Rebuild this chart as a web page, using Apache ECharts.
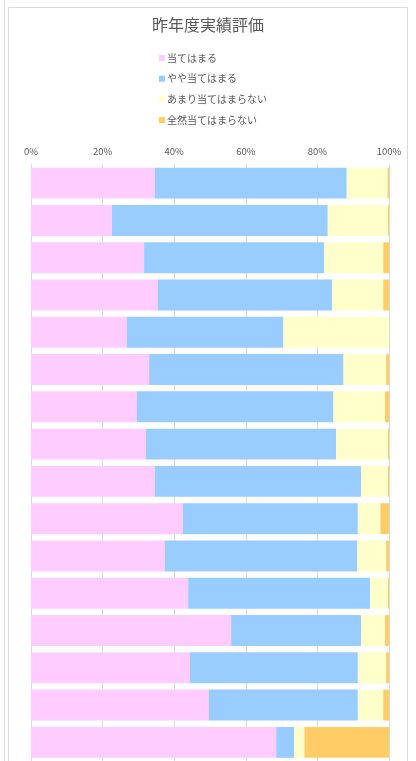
<!DOCTYPE html>
<html><head><meta charset="utf-8">
<script src="https://cdn.jsdelivr.net/npm/echarts@6/dist/echarts.min.js"></script>
<style>html,body{margin:0;padding:0;background:#fff;}#c{width:416px;height:761px;}</style>
</head><body><div id="c"></div>
<script>
const categories = ['項目1','項目2','項目3','項目4','項目5','項目6','項目7','項目8','項目9','項目10','項目11','項目12','項目13','項目14','項目15','項目16'];
const seriesNames = ['当てはまる','やや当てはまる','あまり当てはまらない','全然当てはまらない'];
const atehamaru = [34.6,22.6,31.6,35.4,26.8,33.0,29.6,32.1,34.6,42.4,37.4,43.9,55.9,44.4,49.7,68.5];
const yaya = [53.6,60.3,50.3,48.7,43.7,54.3,54.9,53.1,57.6,48.9,53.7,50.8,36.3,46.9,41.6,5.0];
const amari = [11.4,16.8,16.5,14.3,29.5,11.9,14.4,14.5,7.5,6.3,8.1,5.0,6.7,7.9,7.1,2.9];
const zenzen = [0.4,0.3,1.6,1.6,0,0.8,1.1,0.3,0.3,2.4,0.8,0.3,1.1,0.8,1.6,23.6];
const tickLabels = ['0%','20%','40%','60%','80%','100%'];
const colors = ['#FFCCFF','#99CCFF','#FFFFCC','#FFCC66'];
const values = [atehamaru, yaya, amari, zenzen];
const font = '"Noto Sans CJK JP", "Noto Sans", sans-serif';
const chart = echarts.init(document.getElementById('c'));
chart.setOption({
  animation: false,
  textStyle: {fontFamily: font},
  graphic: [
    {type:'rect', shape:{x:8.5,y:7.5,width:399,height:800}, style:{fill:'none',stroke:'#d9d9d9',lineWidth:1}, z:-1},
    {type:'line', shape:{x1:4.5,y1:0,x2:4.5,y2:761}, style:{stroke:'#d9d9d9',lineWidth:1}, z:-1}
  ],
  title: {text:'昨年度実績評価', left:'center', top:12, textStyle:{fontSize:16, fontWeight:'normal', color:'#595959', fontFamily:font}},
  legend: {orient:'vertical', left:154, top:47, itemWidth:6, itemHeight:6, itemGap:8.7, icon:'rect',
    data: seriesNames,
    textStyle:{fontSize:10, color:'#595959', lineHeight:12, padding:[0,0,0,-3], fontFamily:font}},
  grid: {left:31, width:358, top:164.5, height:598.4, containLabel:false},
  xAxis: {type:'value', position:'top', min:0, max:100, interval:20,
    axisLine:{show:false}, axisTick:{show:false},
    axisLabel:{margin:8, fontSize:9.5, color:'#595959', formatter:(v)=>tickLabels[Math.round(v/20)]},
    splitLine:{lineStyle:{color:'#d9d9d9', width:1}}},
  yAxis: {type:'category', inverse:true, data:categories,
    axisLine:{show:true, lineStyle:{color:'#d9d9d9'}}, axisTick:{show:false}, axisLabel:{show:false}},
  series: seriesNames.map((n,i)=>({
    name:n, type:'bar', stack:'total', data:values[i], barCategoryGap:'17%',
    itemStyle:{color:colors[i], borderWidth:0}
  }))
});
</script></body></html>
